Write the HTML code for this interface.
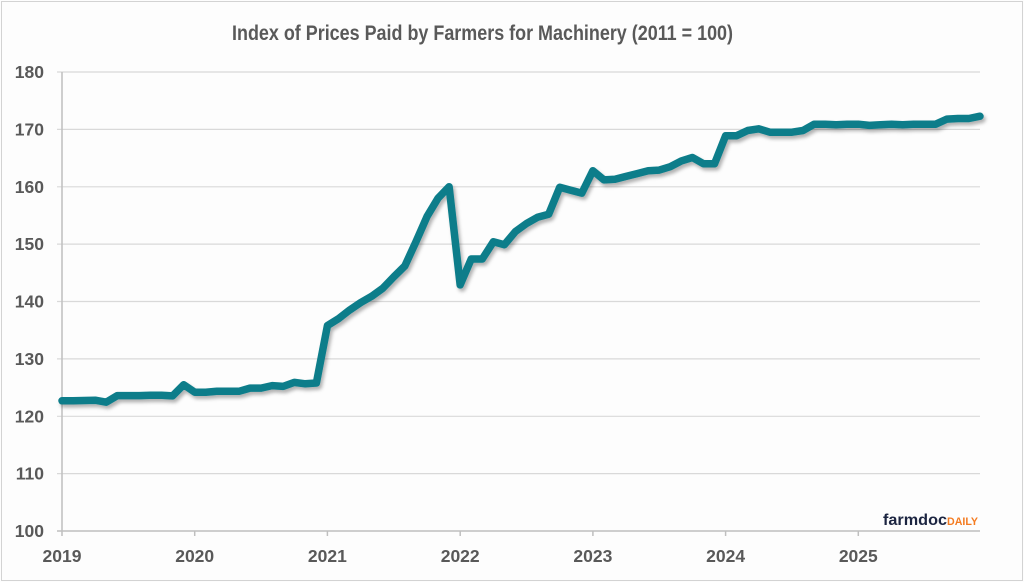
<!DOCTYPE html>
<html><head><meta charset="utf-8"><style>
html,body{margin:0;padding:0;background:#fff;}
svg{display:block;}
</style></head><body>
<svg width="1024" height="582" viewBox="0 0 1024 582" xmlns="http://www.w3.org/2000/svg" font-family="'Liberation Sans', sans-serif">
<defs>
<filter id="sh" x="-5%" y="-5%" width="110%" height="115%">
<feDropShadow dx="2" dy="3" stdDeviation="1.8" flood-color="#000" flood-opacity="0.3"/>
</filter>
</defs>
<rect x="0" y="0" width="1024" height="582" fill="#fdfdfd"/>
<rect x="1.5" y="1.5" width="1021" height="579" fill="none" stroke="#d3d3d3" stroke-width="1"/>
<text x="482.5" y="40" text-anchor="middle" font-size="21" font-weight="bold" fill="#595959" textLength="501" lengthAdjust="spacingAndGlyphs">Index of Prices Paid by Farmers for Machinery (2011 = 100)</text>
<g stroke="#d9d9d9" stroke-width="1.2">
<line x1="57" y1="72" x2="980" y2="72"/>
<line x1="57" y1="129.4" x2="980" y2="129.4"/>
<line x1="57" y1="186.8" x2="980" y2="186.8"/>
<line x1="57" y1="244.1" x2="980" y2="244.1"/>
<line x1="57" y1="301.5" x2="980" y2="301.5"/>
<line x1="57" y1="358.9" x2="980" y2="358.9"/>
<line x1="57" y1="416.3" x2="980" y2="416.3"/>
<line x1="57" y1="473.6" x2="980" y2="473.6"/>
</g>
<g stroke="#bfbfbf" stroke-width="1.5">
<line x1="62" y1="72" x2="62" y2="531"/>
<line x1="57" y1="531" x2="980" y2="531"/>
<line x1="62" y1="531" x2="62" y2="536"/>
<line x1="194.7" y1="531" x2="194.7" y2="536"/>
<line x1="327.4" y1="531" x2="327.4" y2="536"/>
<line x1="460.2" y1="531" x2="460.2" y2="536"/>
<line x1="592.9" y1="531" x2="592.9" y2="536"/>
<line x1="725.6" y1="531" x2="725.6" y2="536"/>
<line x1="858.3" y1="531" x2="858.3" y2="536"/>
</g>
<g font-size="17.5" font-weight="bold" fill="#595959" text-anchor="end">
<text x="44" y="78">180</text>
<text x="44" y="135.4">170</text>
<text x="44" y="192.8">160</text>
<text x="44" y="250.1">150</text>
<text x="44" y="307.5">140</text>
<text x="44" y="364.9">130</text>
<text x="44" y="422.3">120</text>
<text x="44" y="479.6">110</text>
<text x="44" y="537">100</text>
</g>
<g font-size="17.5" font-weight="bold" fill="#595959" text-anchor="middle">
<text x="62" y="562">2019</text>
<text x="194.7" y="562">2020</text>
<text x="327.4" y="562">2021</text>
<text x="460.2" y="562">2022</text>
<text x="592.9" y="562">2023</text>
<text x="725.6" y="562">2024</text>
<text x="858.3" y="562">2025</text>
</g>
<polyline filter="url(#sh)" fill="none" stroke="#0a7d8a" stroke-width="7.5" stroke-linejoin="round" stroke-linecap="round" points="
62,400.8 73.06,400.8 84.12,400.5 95.18,400.2 106.24,402.2 117.3,395.6 128.36,395.6 139.42,395.6 150.48,395.3 161.54,395.3 172.6,395.9 183.66,384.7
194.72,392.2 205.78,392.2 216.84,391.3 227.9,391.3 238.96,391.3 250.02,388.1 261.08,388.1 272.14,385.6 283.2,386.4 294.26,382.4 305.32,383.8 316.38,383.0
327.44,325.6 338.5,318.7 349.56,310.1 360.62,302.6 371.68,296.3 382.74,288.3 393.8,276.8 404.86,265.9 415.92,241.8 426.98,216.6 438.04,198.2 449.1,186.7
460.16,284.9 471.22,259.0 482.28,259.0 493.34,241.8 504.4,244.7 515.46,231.5 526.52,223.5 537.58,217.2 548.64,214.3 559.7,187.3 570.76,190.2 581.82,193.1
592.88,170.7 603.94,179.9 615,179.3 626.06,176.4 637.12,173.6 648.18,170.7 659.24,170.1 670.3,166.7 681.36,160.9 692.42,157.5 703.48,163.8 714.54,163.8
725.6,135.7 736.66,135.7 747.72,130.5 758.78,128.8 769.84,132.2 780.9,132.2 791.96,132.2 803.02,130.5 814.08,124.2 825.14,124.2 836.2,124.8 847.26,124.2
858.32,124.2 869.38,125.4 880.44,124.8 891.5,124.2 902.56,124.8 913.62,124.2 924.68,124.2 935.74,124.2 946.8,119.1 957.86,118.5 968.92,118.5 979.98,116.2"/>
<text x="883" y="525" font-size="16" font-weight="bold" fill="#1c2541" textLength="64" lengthAdjust="spacingAndGlyphs">farmdoc</text>
<text x="947" y="525" font-size="11" font-weight="bold" fill="#f47b20" textLength="31" lengthAdjust="spacingAndGlyphs">DAILY</text>
</svg>
</body></html>
